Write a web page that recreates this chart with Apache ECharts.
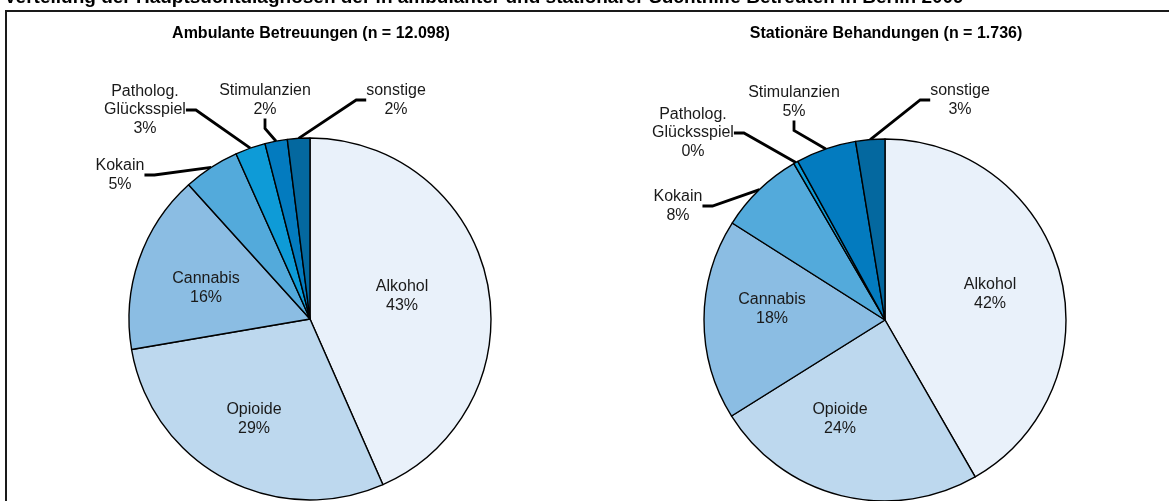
<!DOCTYPE html>
<html>
<head>
<meta charset="utf-8">
<script src="https://cdn.jsdelivr.net/npm/echarts@6/dist/echarts.min.js"></script>
<style>
  html, body { margin: 0; padding: 0; background: #fff; }
  #chart { width: 1169px; height: 501px; }
</style>
</head>
<body>
<div id="chart"></div>
<script>
const categories = ['Alkohol', 'Opioide', 'Cannabis', 'Kokain', 'Patholog.\nGlücksspiel', 'Stimulanzien', 'sonstige'];
const ambulant = [43.4, 28.9, 16.0, 5.0, 2.7, 2.0, 2.0];
const stationaer = [41.7, 24.4, 17.9, 7.6, 0.4, 5.4, 2.6];
const colors = ['#e9f1fa', '#bdd8ee', '#8bbde3', '#53aadb', '#0e9bd7', '#037bbf', '#04689f'];

// label centres (px), per series, same order as categories
const labelPos = [
  [[402, 296], [254, 419], [206, 288], [120, 175], [145, 110], [265, 100], [396, 100]],
  [[990, 294], [840, 419], [772, 309], [678, 206], [693, 133], [794, 102], [960, 100]]
];
const outside = [false, false, false, true, true, true, true];

const font = 'Liberation Sans, Arial, sans-serif';
const chart = echarts.init(document.getElementById('chart'));

const makeSeries = (values, center, idx) => ({
  type: 'pie',
  radius: 181,
  center: center,
  startAngle: 90,
  clockwise: true,
  avoidLabelOverlap: false,
  silent: true,
  animation: false,
  itemStyle: { borderColor: '#000', borderWidth: 1.4 },
  label: {
    color: '#1a1a1a',
    fontFamily: font,
    fontSize: 16,
    lineHeight: 18.5,
    align: 'center',
    formatter: p => p.name + '\n' + Math.round(p.percent) + '%'
  },
  labelLine: { show: true, length: 8, length2: 10, lineStyle: { color: '#000', width: 2.8 } },
  labelLayout: p => ({
    x: labelPos[idx][p.dataIndex][0],
    y: labelPos[idx][p.dataIndex][1],
    align: 'center',
    verticalAlign: 'middle'
  }),
  data: values.map((v, i) => ({
    name: categories[i],
    value: v,
    itemStyle: { color: colors[i] },
    labelLine: { show: outside[i] }
  }))
});

chart.setOption({
  backgroundColor: '#fff',
  graphic: [
    { type: 'rect', shape: { x: 6, y: 11, width: 1300, height: 700 }, style: { fill: 'none', stroke: '#1a1a1a', lineWidth: 2 }, z: -1 },
    { type: 'text', x: 4, y: -2.6, style: { text: 'Verteilung der Hauptsuchtdiagnosen der in ambulanter und stationärer Suchthilfe Betreuten in Berlin 2009', font: 'bold 19px ' + font, fill: '#000', verticalAlign: 'middle' } },
    { type: 'text', x: 311, y: 33.6, style: { text: 'Ambulante Betreuungen (n = 12.098)', font: 'bold 16px ' + font, fill: '#000', align: 'center', verticalAlign: 'middle' } },
    { type: 'text', x: 886, y: 33.6, style: { text: 'Stationäre Behandungen (n = 1.736)', font: 'bold 16px ' + font, fill: '#000', align: 'center', verticalAlign: 'middle' } }
  ],
  series: [
    makeSeries(ambulant, [310, 319], 0),
    makeSeries(stationaer, [885, 320], 1)
  ]
});
</script>
</body>
</html>
